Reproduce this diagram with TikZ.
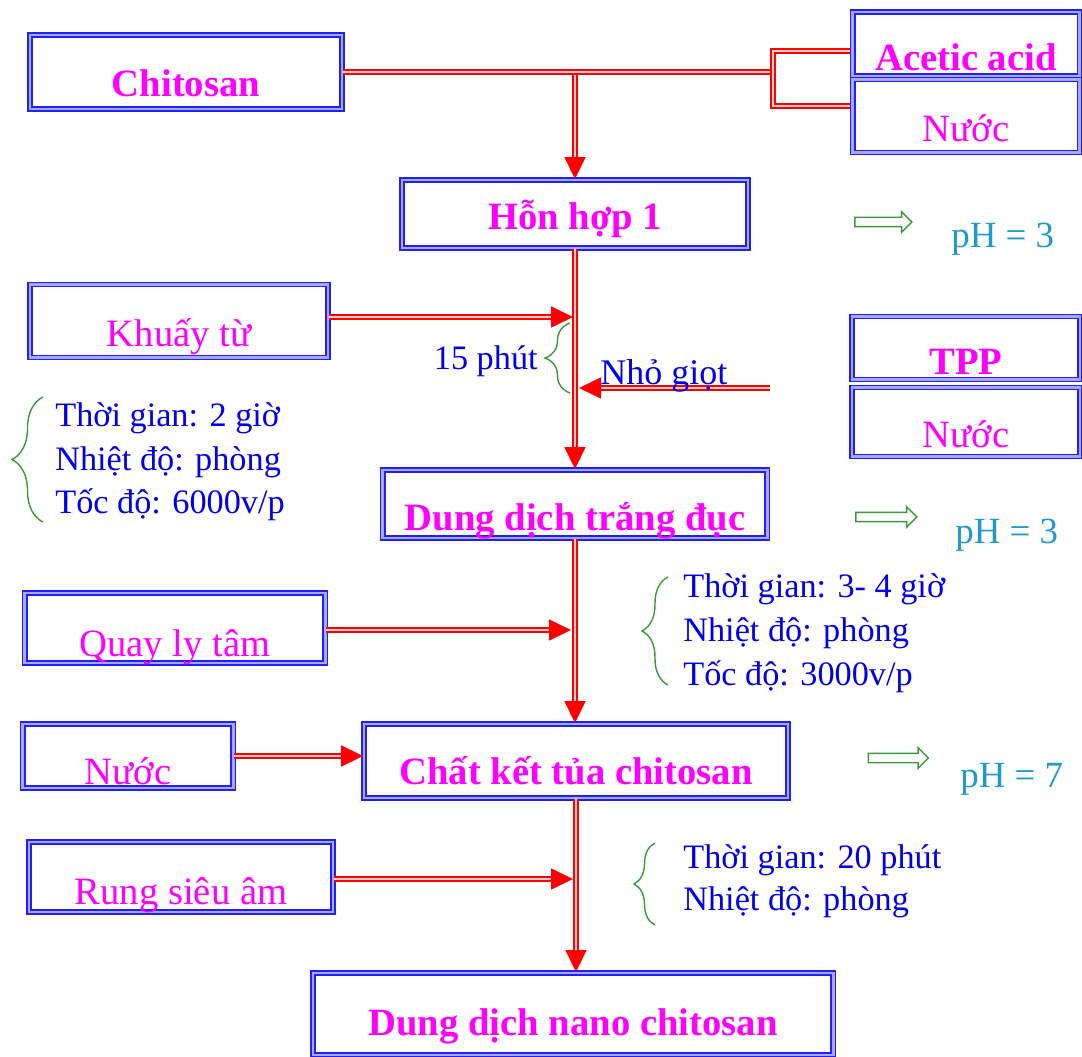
\documentclass[tikz,border=0pt]{standalone}
\usepackage{fontspec}
\setmainfont{Liberation Serif}
\usepackage{tikz}
\usetikzlibrary{arrows.meta,shapes.arrows,decorations.pathreplacing}
\usepackage{xcolor}
\definecolor{ncBorder}{HTML}{1F1FFF}
\definecolor{ncBorderIn}{HTML}{A8A8FF}
\definecolor{ncMagenta}{HTML}{FF00FF}
\definecolor{ncText}{HTML}{0000EE}
\definecolor{ncFlow}{HTML}{FF0000}
\definecolor{ncGreen}{HTML}{3A9A3A}
\definecolor{ncPH}{HTML}{1E9BCB}
\tikzset{
    % Process boxes (double blue frame)
    stepbox/.style={rectangle,draw=ncBorder,double=ncBorderIn,line width=1.1pt,double distance=1.2pt,inner sep=0pt,text=ncMagenta,font=\fontsize{22}{26}\selectfont},
    boldbox/.style={stepbox,font=\fontsize{22}{26}\selectfont\bfseries},
    % Flow styles
    flow/.style={draw=ncFlow,double=ncFlow!20,line width=1pt,double distance=1.1pt},
    flowarrow/.style={flow,-{Triangle[length=0.44cm,width=0.42cm]}},
    % Notes and markers
    note/.style={anchor=base west,inner sep=0pt,text=ncText,font=\fontsize{19.5}{24}\selectfont},
    phnote/.style={note,text=ncPH,font=\fontsize{21}{25}\selectfont},
    curly/.style={draw=ncGreen,line width=0.8pt,decorate,decoration={brace,amplitude=#1}},
    pharrow/.style={single arrow,draw=ncGreen,fill=white,line width=0.8pt,inner sep=0.08cm,single arrow head extend=0.11cm,single arrow head indent=0pt,minimum height=#1}
}

\begin{document}
\begin{tikzpicture}[x=0.02cm,y=-0.02cm]
    \useasboundingbox (0,0) rectangle (1082,1057);

    % Starting materials
    \node[boldbox,minimum width=6.24cm,text height=1.24cm,text depth=0.24cm] (chitosan) at (186,72) {Chitosan};
    \node[boldbox,minimum width=4.54cm,text height=1.18cm,text depth=0.10cm] (acid) at (966,44) {Acetic acid};
    \node[stepbox,minimum width=4.54cm,text height=1.24cm,text depth=0.22cm] (water1) at (966,116) {Nước};

    % Main process steps
    \node[boldbox,minimum width=6.92cm,text height=1.00cm,text depth=0.36cm] (hh1) at (575,214) {Hỗn hợp 1};
    \node[boldbox,minimum width=7.70cm,text height=1.22cm,text depth=0.14cm] (trangduc) at (575,504) {Dung dịch trắng đục};
    \node[boldbox,minimum width=8.48cm,text height=1.22cm,text depth=0.26cm] (ketua) at (576,761) {Chất kết tủa chitosan};
    \node[boldbox,minimum width=10.42cm,text height=1.24cm,text depth=0.40cm] (nano) at (573,1014) {Dung dịch nano chitosan};

    % Side operations
    \node[stepbox,minimum width=5.96cm,text height=1.24cm,text depth=0.22cm] (khuay) at (179,321) {Khuấy từ};
    \node[boldbox,minimum width=4.56cm,text height=1.16cm,text depth=0.10cm] (tpp) at (966,348) {TPP};
    \node[stepbox,minimum width=4.56cm,text height=1.20cm,text depth=0.18cm] (water2) at (966,422) {Nước};
    \node[stepbox,minimum width=6.02cm,text height=1.28cm,text depth=0.12cm] (quay) at (175,628) {Quay ly tâm};
    \node[stepbox,minimum width=4.22cm,text height=1.22cm,text depth=0.06cm] (water3) at (128,756) {Nước};
    \node[stepbox,minimum width=6.08cm,text height=1.26cm,text depth=0.14cm] (rung) at (181,877) {Rung siêu âm};

    % Junction points on the main line
    \coordinate (brjoint) at (773,72);
    \coordinate (acidin) at (850,51);
    \coordinate (waterin) at (850,106);
    \coordinate (j1) at (573,317);
    \coordinate (drip) at (770,388);
    \coordinate (j2) at (579,388);
    \coordinate (j3) at (571,630);
    \coordinate (j4) at (573,879);

    % Flow lines
    \draw[flowarrow] (chitosan.east -| hh1.north) -- (hh1.north);
    \draw[flow] (chitosan.east) -- (brjoint);
    \draw[flow] (acidin) -- (acidin -| brjoint) -- (waterin -| brjoint) -- (waterin);
    \draw[flowarrow] (hh1.south) -- (hh1.south |- trangduc.north);
    \draw[flowarrow] (khuay.east |- j1) -- (j1);
    \draw[flowarrow] (drip) -- (j2);
    \draw[flowarrow] (trangduc.south) -- (trangduc.south |- ketua.north);
    \draw[flowarrow] (quay.east |- j3) -- (j3);
    \draw[flowarrow] (water3.east) -- (water3.east -| ketua.west);
    \draw[flowarrow] (ketua.south) -- (ketua.south |- nano.north);
    \draw[flowarrow] (rung.east |- j4) -- (j4);

    % Dropping TPP
    \draw[curly=0.5cm] (570,393) -- (570,323);
    \node[note,anchor=base east] (stir15) at (538,370) {15 phút};
    \node[note,font=\fontsize{20.5}{24}\selectfont] (driplabel) at (600,385) {Nhỏ giọt};

    % Stirring conditions
    \draw[curly=0.62cm] (43,522) -- (43,397);
    \node[note] (time1) at (55,427) {Thời gian: 2 giờ};
    \node[note] (temp1) at (55,470) {Nhiệt độ: phòng};
    \node[note] (speed1) at (55,513) {Tốc độ: 6000v/p};

    % Centrifuge conditions
    \draw[curly=0.52cm] (668,685) -- (668,577);
    \node[note] (time2) at (683,597) {Thời gian: 3- 4 giờ};
    \node[note] (temp2) at (683,641) {Nhiệt độ: phòng};
    \node[note] (speed2) at (683,685) {Tốc độ: 3000v/p};

    % Ultrasound conditions
    \draw[curly=0.42cm] (655,925) -- (655,843);
    \node[note] (time3) at (683,868) {Thời gian: 20 phút};
    \node[note] (temp3) at (683,910) {Nhiệt độ: phòng};

    % pH values
    \node[pharrow=1.14cm] (pharr1) at (881,222) {};
    \node[phnote] (ph1) at (951,248) {pH = 3};
    \node[pharrow=1.22cm] (pharr2) at (884,517) {};
    \node[phnote] (ph2) at (955,543) {pH = 3};
    \node[pharrow=1.20cm] (pharr3) at (896,758) {};
    \node[phnote] (ph3) at (960,787) {pH = 7};
\end{tikzpicture}
\end{document}
